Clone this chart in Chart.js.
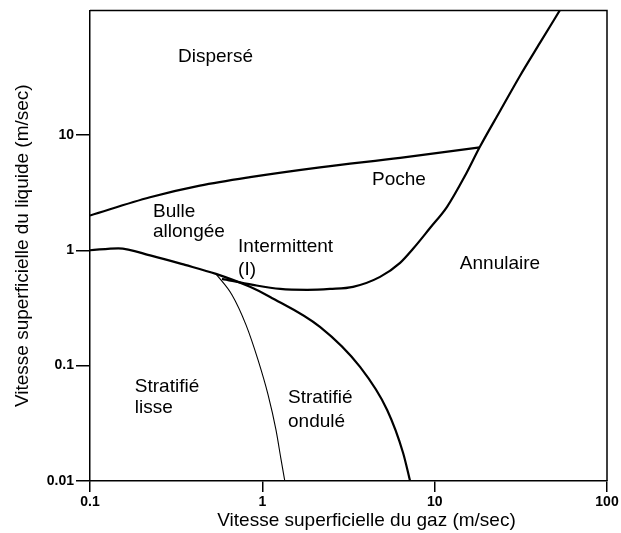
<!DOCTYPE html>
<html>
<head>
<meta charset="utf-8">
<script src="https://cdn.jsdelivr.net/npm/chart.js@4.4.1/dist/chart.umd.min.js"></script>
<style>
  html, body { margin: 0; padding: 0; background: #fff; }
  #wrap { width: 621px; height: 533px; }
</style>
</head>
<body>
<div id="wrap"><canvas id="chart"></canvas></div>
<script>
const xTicks = [0.1, 1, 10, 100];
const yTicks = [0.01, 0.1, 1, 10];

// bulle allongée / dispersé boundary
const dispX = [0.1, 0.223, 0.434, 0.849, 2.16, 6.3, 18.3];
const dispY = [2.0, 2.88, 3.63, 4.30, 5.23, 6.33, 7.8];

// intermittent / annulaire boundary
const annX = [0.583, 0.883, 1.27, 1.82, 2.47, 3.36, 4.82, 6.30, 7.49, 9.40, 11.8, 15.0, 18.3, 24.0, 31.3, 40.9, 53.5];
const annY = [0.565, 0.501, 0.462, 0.454, 0.462, 0.482, 0.588, 0.778, 1.03, 1.56, 2.38, 4.42, 7.89, 16.2, 32.6, 63.0, 121.6];

// stratified boundary (thick)
const stratX = [0.1, 0.146, 0.229, 0.356, 0.538, 0.848, 1.11, 2.16, 3.69, 5.30, 6.56, 7.20];
const stratY = [1.0, 1.04, 0.894, 0.747, 0.624, 0.482, 0.394, 0.217, 0.0975, 0.0413, 0.0175, 0.01];

// lisse / ondulé boundary (thin)
const wavyX = [0.538, 0.667, 0.804, 0.944, 1.08, 1.20, 1.28, 1.35];
const wavyY = [0.624, 0.410, 0.2255, 0.112, 0.0557, 0.0277, 0.0158, 0.01];

const regionText = ["Dispersé", "Bulle", "allongée", "Intermittent", "(I)", "Poche", "Annulaire", "Stratifié", "lisse", "Stratifié", "ondulé"];
const regionX = [0.324, 0.232, 0.232, 0.723, 0.723, 4.33, 14.0, 0.182, 0.182, 1.41, 1.41];
const regionY = [43.1, 1.95, 1.31, 0.968, 0.612, 3.69, 0.690, 0.0592, 0.0389, 0.0474, 0.0294];

const xTitle = "Vitesse superficielle du gaz (m/sec)";
const yTitle = "Vitesse superficielle du liquide (m/sec)";

const FONT = '"Liberation Sans", Arial, sans-serif';
const pts = (xs, ys) => xs.map((v, i) => ({ x: v, y: ys[i] }));

const line = (data, w) => ({
  data: data,
  showLine: true,
  borderColor: "#000",
  borderWidth: w,
  pointRadius: 0,
  cubicInterpolationMode: "monotone",
  fill: false
});

const frameAndText = {
  id: "frameAndText",
  afterDraw(chart) {
    const { ctx, chartArea: a, scales: { x, y } } = chart;
    ctx.save();
    ctx.strokeStyle = "#000";
    ctx.lineWidth = 1.5;
    ctx.beginPath();
    ctx.moveTo(a.left, a.top);
    ctx.lineTo(a.right, a.top);
    ctx.lineTo(a.right, a.bottom);
    ctx.stroke();

    ctx.fillStyle = "#000";
    ctx.font = "19px " + FONT;
    ctx.textAlign = "left";
    ctx.textBaseline = "alphabetic";
    regionText.forEach((t, i) => {
      ctx.fillText(t, x.getPixelForValue(regionX[i]), y.getPixelForValue(regionY[i]));
    });

    ctx.textAlign = "center";
    ctx.textBaseline = "middle";
    ctx.fillText(xTitle, (a.left + a.right) / 2 + 18, a.bottom + 40);
    ctx.restore();
  }
};

const axisCommon = {
  type: "logarithmic",
  border: { display: true, color: "#000", width: 1.5 },
  grid: { drawOnChartArea: false, drawTicks: true, color: "#000", lineWidth: 1.5 },
  ticks: {
    color: "#000",
    font: { family: FONT, size: 14, weight: "bold" },
    padding: 2,
    callback: (v) => String(v)
  }
};

new Chart(document.getElementById("chart"), {
  type: "scatter",
  data: {
    datasets: [
      line(pts(dispX, dispY), 2.2),
      line(pts(annX, annY), 2.2),
      line(pts(stratX, stratY), 2.2),
      line(pts(wavyX, wavyY), 1.1)
    ]
  },
  options: {
    responsive: true,
    maintainAspectRatio: false,
    animation: false,
    layout: { padding: { top: 10, right: 14, left: 0, bottom: 0 } },
    plugins: { legend: { display: false }, tooltip: { enabled: false } },
    scales: {
      x: {
        ...axisCommon,
        min: 0.1,
        max: 100,
        grid: { ...axisCommon.grid, tickLength: 11 },
        afterBuildTicks: (s) => { s.ticks = xTicks.map((v) => ({ value: v })); },
        afterFit: (s) => { s.height = 52; }
      },
      y: {
        ...axisCommon,
        min: 0.01,
        max: 120,
        grid: { ...axisCommon.grid, tickLength: 14 },
        title: {
          display: true,
          text: yTitle,
          color: "#000",
          font: { family: FONT, size: 19 },
          padding: { top: 11, bottom: 0 }
        },
        afterBuildTicks: (s) => { s.ticks = yTicks.map((v) => ({ value: v })); },
        afterFit: (s) => { s.width = 90; }
      }
    }
  },
  plugins: [frameAndText]
});
</script>
</body>
</html>
